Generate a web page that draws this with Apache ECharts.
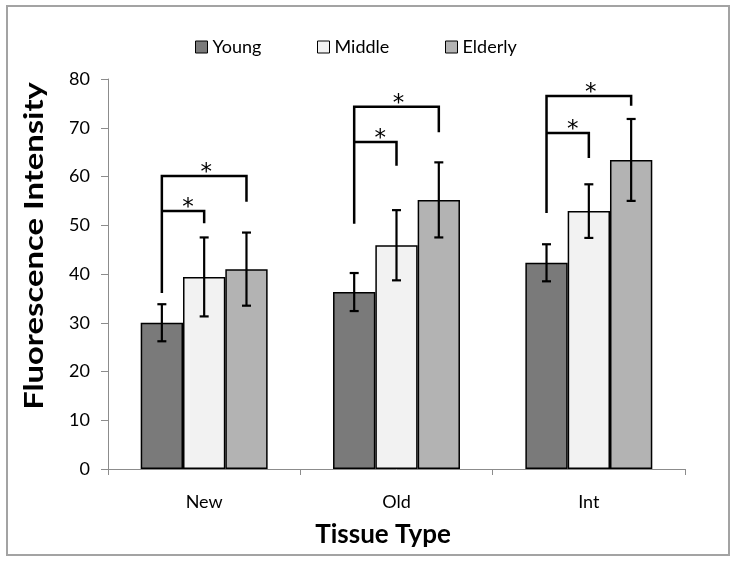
<!DOCTYPE html>
<html>
<head>
<meta charset="utf-8">
<script src="https://cdn.jsdelivr.net/npm/echarts@6/dist/echarts.min.js"></script>
<style>html,body{margin:0;padding:0;background:#fff}#c{width:736px;height:562px}</style>
</head>
<body>
<div id="c"></div>
<script>
const categories = ['New', 'Old', 'Int'];
const seriesNames = ['Young', 'Middle', 'Elderly'];
const young = [30.0, 36.3, 42.3];
const middle = [39.4, 45.9, 52.9];
const elderly = [41.0, 55.2, 63.4];
const youngErr = [3.8, 3.9, 3.8];
const middleErr = [8.1, 7.2, 5.5];
const elderlyErr = [7.5, 7.7, 8.4];
// significance brackets: [start of stem, inner level, inner drop end, outer level, outer drop end]
const bracketBase = [36.1, 50.3, 52.5];
const bracketInner = [52.9, 67.1, 68.9];
const bracketInnerEnd = [50.4, 62.2, 63.8];
const bracketOuter = [60.1, 74.3, 76.5];
const bracketOuterEnd = [54.8, 69.1, 74.5];
const yTicks = [0, 10, 20, 30, 40, 50, 60, 70, 80];

const colors = ['#7a7a7a', '#f2f2f2', '#b3b3b3'];
const GAP = 0.34;
const FONT = 'Lato, "Liberation Sans", sans-serif';

function barOffset(api, k) {
  const band = api.size([1, 0])[0];
  const bw = band * (1 - GAP) / 3;
  return (k - 1) * bw;
}

function errSeries(k, vals, errs) {
  return {
    type: 'custom',
    z: 5,
    silent: true,
    data: vals.map((v, i) => [i, v - errs[i], v + errs[i]]),
    renderItem: function (params, api) {
      const idx = api.value(0);
      const lo = api.coord([idx, api.value(1)]);
      const hi = api.coord([idx, api.value(2)]);
      const x = lo[0] + barOffset(api, k);
      const cap = 4.5;
      const st = { stroke: '#000', lineWidth: 2.2 };
      return {
        type: 'group',
        children: [
          { type: 'line', shape: { x1: x, y1: lo[1], x2: x, y2: hi[1] }, style: st },
          { type: 'line', shape: { x1: x - cap, y1: lo[1], x2: x + cap, y2: lo[1] }, style: st },
          { type: 'line', shape: { x1: x - cap, y1: hi[1], x2: x + cap, y2: hi[1] }, style: st }
        ]
      };
    }
  };
}

const bracketSeries = {
  type: 'custom',
  z: 6,
  silent: true,
  data: categories.map((c, i) => [i, bracketBase[i], bracketInner[i], bracketInnerEnd[i], bracketOuter[i], bracketOuterEnd[i]]),
  renderItem: function (params, api) {
    const idx = api.value(0);
    const x0 = api.coord([idx, 0])[0] + barOffset(api, 0);
    const x1 = api.coord([idx, 0])[0] + barOffset(api, 1);
    const x2 = api.coord([idx, 0])[0] + barOffset(api, 2);
    const y = (v) => api.coord([idx, v])[1];
    const st = { stroke: '#000', lineWidth: 2.5, fill: null };
    const yb = y(api.value(1)), yi = y(api.value(2)), yie = y(api.value(3)), yo = y(api.value(4)), yoe = y(api.value(5));
    const starStyle = { fontSize: 23, fontFamily: '"DejaVu Sans", sans-serif', fill: '#000', align: 'center', verticalAlign: 'middle' };
    return {
      type: 'group',
      children: [
        { type: 'polyline', shape: { points: [[x0, yb], [x0, yo], [x2, yo], [x2, yoe]] }, style: st },
        { type: 'polyline', shape: { points: [[x0, yi], [x1, yi], [x1, yie]] }, style: st },
        { type: 'text', style: Object.assign({ text: '*', x: (x0 + x1) / 2 + 5, y: yi - 3 }, starStyle) },
        { type: 'text', style: Object.assign({ text: '*', x: (x0 + x2) / 2 + 2, y: yo - 3 }, starStyle) }
      ]
    };
  }
};

const legendLeft = [195, 317, 445];
const chart = echarts.init(document.getElementById('c'), null, { renderer: 'canvas' });
chart.setOption({
  animation: false,
  backgroundColor: '#fff',
  textStyle: { fontFamily: FONT },
  grid: { left: 108, right: 51, top: 79, bottom: 93, containLabel: false },
  legend: seriesNames.map((n, k) => ({
    top: 38,
    left: legendLeft[k],
    padding: 0,
    itemWidth: 12,
    itemHeight: 12,
    icon: 'rect',
    selectedMode: false,
    textStyle: { fontSize: 18, color: '#000', fontFamily: FONT },
    data: [{ name: n, itemStyle: { color: colors[k], borderColor: '#000', borderWidth: 1 } }]
  })),
  xAxis: {
    type: 'category',
    data: categories,
    axisLine: { lineStyle: { color: '#8c8c8c', width: 1 } },
    axisTick: { show: true, length: 6, lineStyle: { color: '#8c8c8c' } },
    axisLabel: { fontSize: 18, color: '#000', margin: 24, fontFamily: FONT },
    splitLine: { show: false }
  },
  yAxis: {
    type: 'value',
    min: 0, max: 80, interval: 10,
    axisLine: { show: true, lineStyle: { color: '#8c8c8c', width: 1 } },
    axisTick: { show: true, inside: false, length: 7, lineStyle: { color: '#8c8c8c' } },
    axisLabel: { fontSize: 18, color: '#000', margin: 18, fontFamily: FONT },
    splitLine: { show: false }
  },
  graphic: [
    { type: 'rect', shape: { x: 7, y: 6, width: 722, height: 549 }, style: { fill: null, stroke: '#a3a3a3', lineWidth: 2 }, z: 10 },
    { type: 'text', x: 35, y: 246, rotation: Math.PI / 2, scaleX: 1.26, style: { text: 'Fluorescence Intensity', fontSize: 26, fontWeight: 'bold', fontFamily: FONT, fill: '#000', align: 'center', verticalAlign: 'middle' } },
    { type: 'text', x: 383, y: 535, style: { text: 'Tissue Type', fontSize: 26, fontWeight: 'bold', fontFamily: FONT, fill: '#000', align: 'center', verticalAlign: 'middle' } }
  ],
  series: [
    { name: seriesNames[0], type: 'bar', data: young, barGap: '0%', barCategoryGap: (GAP * 100) + '%', itemStyle: { color: colors[0], borderColor: '#000', borderWidth: 1.5 } },
    { name: seriesNames[1], type: 'bar', data: middle, barGap: '0%', barCategoryGap: (GAP * 100) + '%', itemStyle: { color: colors[1], borderColor: '#000', borderWidth: 1.5 } },
    { name: seriesNames[2], type: 'bar', data: elderly, barGap: '0%', barCategoryGap: (GAP * 100) + '%', itemStyle: { color: colors[2], borderColor: '#000', borderWidth: 1.5 } },
    errSeries(0, young, youngErr),
    errSeries(1, middle, middleErr),
    errSeries(2, elderly, elderlyErr),
    bracketSeries
  ]
});
</script>
</body>
</html>
